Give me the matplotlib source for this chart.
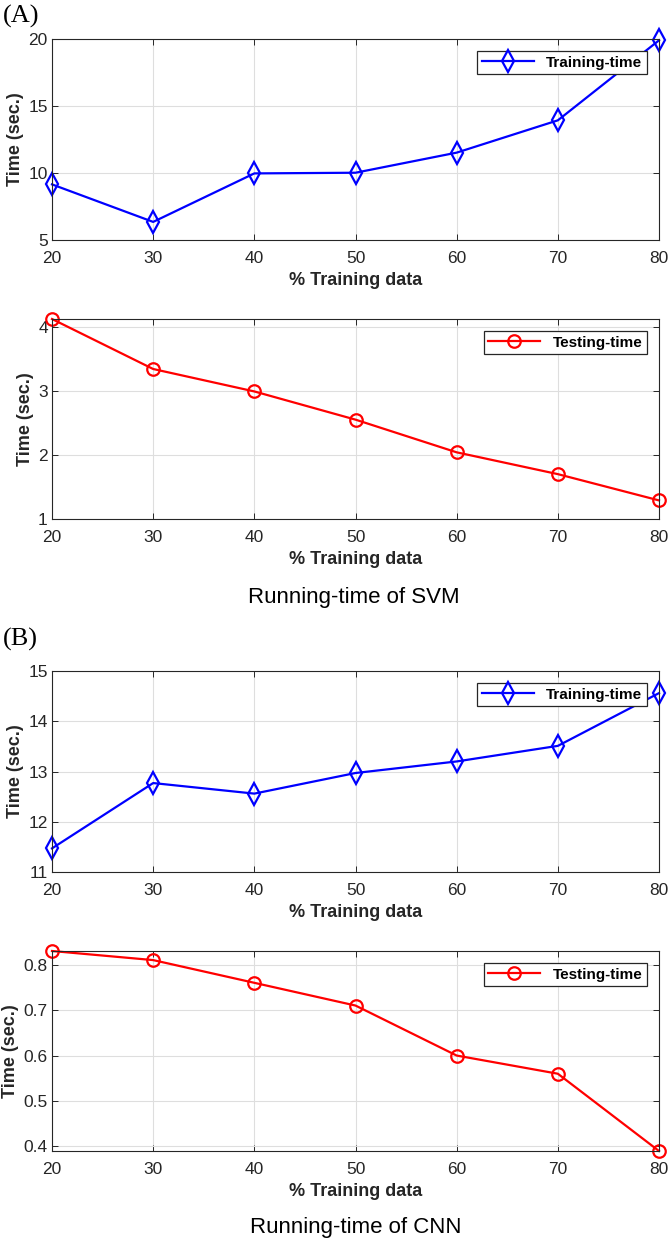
import matplotlib

matplotlib.use("Agg")
import matplotlib.pyplot as plt

# % of data used for training
train_pct = [20, 30, 40, 50, 60, 70, 80]

# SVM running times (sec.)
svm_train_time = [9.15, 6.35, 9.97, 10.02, 11.52, 13.93, 19.9]
svm_test_time = [4.12, 3.34, 2.99, 2.55, 2.04, 1.70, 1.29]

# CNN running times (sec.)
cnn_train_time = [11.47, 12.77, 12.56, 12.97, 13.20, 13.51, 14.56]
cnn_test_time = [0.83, 0.81, 0.76, 0.71, 0.60, 0.56, 0.39]

x_ticks = [20, 30, 40, 50, 60, 70, 80]

plt.rcParams["font.family"] = ["Liberation Sans", "DejaVu Sans"]

TEXT_DARK = "#262626"
W, H = 669, 1240


def style_axes(ax, ylim, yticks):
    ax.set_xlim(20, 80)
    ax.set_ylim(*ylim)
    ax.set_xticks(x_ticks)
    ax.set_yticks(yticks)
    ax.grid(True, color="#dedede", linewidth=0.8)
    ax.set_axisbelow(True)
    ax.tick_params(direction="in", top=True, right=True, length=4,
                   width=0.7, colors=TEXT_DARK, labelsize=12.5)
    ax.tick_params(axis="x", pad=8)
    ax.tick_params(axis="y", pad=3)
    for spine in ax.spines.values():
        spine.set_color(TEXT_DARK)
        spine.set_linewidth(0.8)
    ax.set_xlabel("% Training data", fontsize=13, fontweight="bold",
                  color=TEXT_DARK, labelpad=4)
    ax.set_ylabel("Time (sec.)", fontsize=13, fontweight="bold",
                  color=TEXT_DARK, labelpad=3)


def add_legend(ax):
    leg = ax.legend(loc="upper right", bbox_to_anchor=(1.0, 1.0),
                    borderaxespad=0.8, fancybox=False, framealpha=1,
                    edgecolor=TEXT_DARK, handlelength=3.4,
                    prop={"size": 11, "weight": "bold"},
                    borderpad=0.3, handletextpad=0.8)
    leg.get_frame().set_linewidth(0.9)


def box(top_px, bottom_px):
    left_px, right_px = 52, 659
    return [left_px / W, 1 - bottom_px / H, (right_px - left_px) / W,
            (bottom_px - top_px) / H]


fig = plt.figure(figsize=(W / 100, H / 100), dpi=100)

# (A) SVM
ax1 = fig.add_axes(box(39, 240))
ax1.plot(train_pct, svm_train_time, color="blue", lw=1.6, marker="d",
         ms=11, mfc="none", mew=1.6, label="Training-time", clip_on=False)
style_axes(ax1, (5, 20), [5, 10, 15, 20])
add_legend(ax1)

ax2 = fig.add_axes(box(319, 519))
ax2.plot(train_pct, svm_test_time, color="red", lw=1.6, marker="o",
         ms=9, mfc="none", mew=1.6, label="Testing-time", clip_on=False)
style_axes(ax2, (1, 4.12), [1, 2, 3, 4])
add_legend(ax2)

# (B) CNN
ax3 = fig.add_axes(box(671, 872))
ax3.plot(train_pct, cnn_train_time, color="blue", lw=1.6, marker="d",
         ms=11, mfc="none", mew=1.6, label="Training-time", clip_on=False)
style_axes(ax3, (11, 15), [11, 12, 13, 14, 15])
add_legend(ax3)

ax4 = fig.add_axes(box(951, 1151))
ax4.plot(train_pct, cnn_test_time, color="red", lw=1.6, marker="o",
         ms=9, mfc="none", mew=1.6, label="Testing-time", clip_on=False)
style_axes(ax4, (0.39, 0.83), [0.4, 0.5, 0.6, 0.7, 0.8])
add_legend(ax4)

serif = ["Liberation Serif", "DejaVu Serif"]
fig.text(3 / W, 1 - 16 / H, "(A)", family=serif, fontsize=19, va="center",
         ha="left")
fig.text(3 / W, 1 - 639 / H, "(B)", family=serif, fontsize=19, va="center",
         ha="left")

fig.text(354 / W, 1 - 598 / H, "Running-time of SVM", fontsize=16,
         ha="center", va="center", color="black")
fig.text(356 / W, 1 - 1227 / H, "Running-time of CNN", fontsize=16,
         ha="center", va="center", color="black")

fig.savefig("out.png", dpi=100)
